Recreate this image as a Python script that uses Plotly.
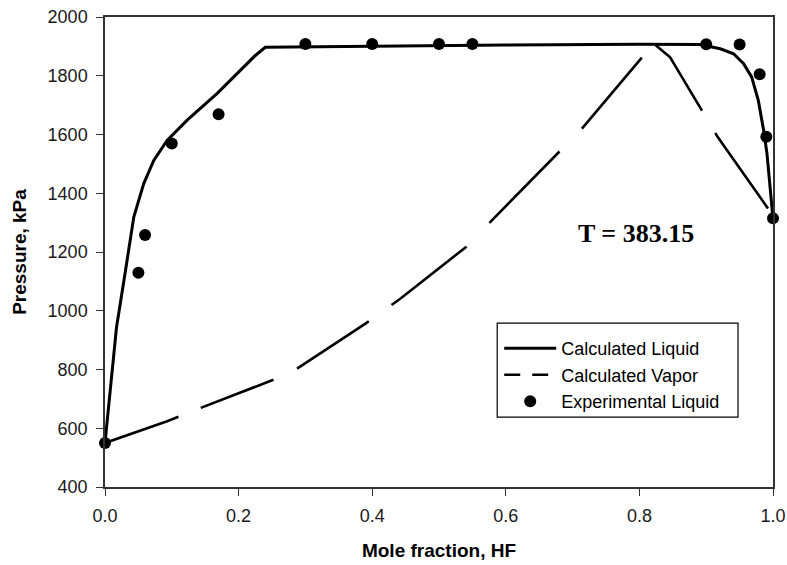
import plotly.graph_objects as go

# Calculated liquid (bubble) curve
liquid_x = [0.0, 0.0172, 0.0307, 0.0431, 0.058, 0.073, 0.093, 0.123, 0.168, 0.208, 0.225,
            0.240, 0.40, 0.60, 0.80, 0.891, 0.921, 0.941, 0.956, 0.968, 0.978, 0.986,
            0.991, 0.996, 1.0]
liquid_p = [550, 943, 1137, 1319, 1433, 1512, 1580, 1649, 1740, 1830, 1869,
            1897, 1901, 1905, 1907, 1906, 1892, 1875, 1841, 1796, 1716, 1614,
            1535, 1422, 1313]

# Calculated vapor (dew) curve
vapor_x = [0.0, 0.093, 0.143, 0.252, 0.287, 0.391, 0.442, 0.541, 0.575, 0.680, 0.714,
           0.804, 0.824, 0.846, 0.897, 0.917, 0.996, 1.0]
vapor_p = [550, 624, 669, 765, 802, 958, 1041, 1218, 1298, 1541, 1620,
           1863, 1905, 1863, 1665, 1592, 1337, 1313]

# Experimental liquid
exp_x = [0.0, 0.05, 0.06, 0.10, 0.17, 0.30, 0.40, 0.50, 0.55, 0.90, 0.95, 0.98, 0.99, 1.0]
exp_p = [550, 1129, 1258, 1569, 1669, 1908, 1908, 1908, 1908, 1907, 1906, 1805, 1592, 1315]

x_ticks = [0.0, 0.2, 0.4, 0.6, 0.8, 1.0]
y_ticks = [400, 600, 800, 1000, 1200, 1400, 1600, 1800, 2000]

FONT = "Liberation Sans, Arial, sans-serif"
VAPOR_DASH = "78px,24px,78px,26px,86px,28px,95px,33px,100px,32px,93px,18px,82px,26px,92px,30px"

fig = go.Figure()
fig.add_trace(go.Scatter(x=liquid_x, y=liquid_p, mode="lines", name="Calculated Liquid",
                         line=dict(color="black", width=3), cliponaxis=False))
fig.add_trace(go.Scatter(x=vapor_x, y=vapor_p, mode="lines", name="Calculated Vapor",
                         line=dict(color="black", width=2.6, dash=VAPOR_DASH),
                         cliponaxis=False, showlegend=False, legendgroup="vap"))
# legend proxy for the vapor curve (short dashes, as in the original legend)
fig.add_trace(go.Scatter(x=[None], y=[None], mode="lines", name="Calculated Vapor",
                         line=dict(color="black", width=2.6, dash="16px,12px"),
                         legendgroup="vap"))
fig.add_trace(go.Scatter(x=exp_x, y=exp_p, mode="markers", name="Experimental Liquid",
                         marker=dict(color="black", size=12), cliponaxis=False))

L, R, T, B = 104.5, 773, 16.5, 487
W, H = 787, 565

def px_x(p):
    return (p - L) / (R - L)

def px_y(p):
    return (B - p) / (B - T)

fig.add_shape(type="rect", xref="paper", yref="paper",
              x0=px_x(497), x1=px_x(738), y0=px_y(417), y1=px_y(323),
              line=dict(color="black", width=1.2), fillcolor="rgba(0,0,0,0)")

fig.add_annotation(x=0.795, y=1263, xref="x", yref="y", text="<b>T = 383.15</b>",
                   showarrow=False,
                   font=dict(family="Liberation Serif, Times New Roman, serif", size=26, color="black"))

fig.update_layout(
    width=W, height=H,
    margin=dict(l=L, r=W - R, t=T, b=H - B, autoexpand=False),
    paper_bgcolor="white", plot_bgcolor="white",
    font=dict(family=FONT, size=18, color="#1a1a1a"),
    showlegend=True,
    legend=dict(x=px_x(499), y=px_y(330), xanchor="left", yanchor="top",
                bgcolor="rgba(0,0,0,0)", borderwidth=0, itemwidth=52,
                font=dict(family=FONT, size=18, color="black"), tracegroupgap=0),
    xaxis=dict(range=[0, 1], tickvals=x_ticks, tickformat=".1f", showgrid=False, zeroline=False,
               showline=True, linecolor="#333", linewidth=1.5, mirror=True,
               ticks="outside", ticklen=7, tickcolor="#333", ticklabelstandoff=5,
               title=dict(text="Mole fraction, HF", standoff=18,
                          font=dict(family=FONT, size=19, color="black", weight="bold"))),
    yaxis=dict(range=[400, 2000], tickvals=y_ticks, showgrid=False, zeroline=False,
               showline=True, linecolor="#333", linewidth=1.5, mirror=True,
               ticks="outside", ticklen=7, tickcolor="#333", ticklabelstandoff=5,
               title=dict(text="Pressure, kPa", standoff=16,
                          font=dict(family=FONT, size=19, color="black", weight="bold"))),
)

fig.write_html("out.html", config={"displayModeBar": False},
               post_script="document.body.style.margin='0';document.body.style.overflow='hidden';")
